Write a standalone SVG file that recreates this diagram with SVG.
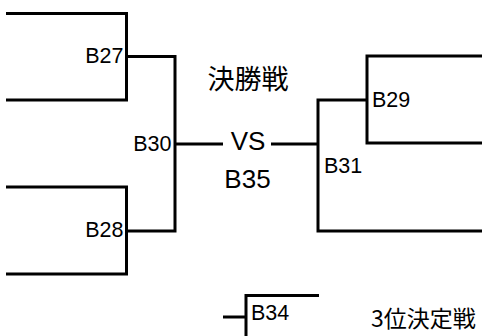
<svg xmlns="http://www.w3.org/2000/svg" width="482" height="336" viewBox="0 0 482 336">
<style>
.ln{fill:none;stroke:#000;stroke-width:3;stroke-linejoin:miter}
.lb{font-family:"Liberation Sans",Arial,"Noto Sans CJK JP",sans-serif;font-size:21.5px;fill:#000}
.big{font-family:"Liberation Sans",Arial,"Noto Sans CJK JP",sans-serif;font-size:26px;fill:#000}
.jp{font-family:"Noto Sans CJK JP","Liberation Sans",sans-serif;fill:#000}
</style>
<rect width="482" height="336" fill="#fff"/>
<g id="connectors">
<path class="ln" d="M6,13.5 H126.5 V100 H6"/>
<path class="ln" d="M6,187 H126.5 V274 H6"/>
<path class="ln" d="M126.5,56.5 H175 V231 H126.5"/>
<path class="ln" d="M175,144 H223"/>
<path class="ln" d="M271,144 H318"/>
<path class="ln" d="M367,100 H318 V231 H482"/>
<path class="ln" d="M482,56 H367 V143 H482"/>
<path class="ln" d="M223,317 H246"/>
<path class="ln" d="M246,336 V295.5 H319"/>
</g>
<g id="B27"><text class="lb" x="123.5" y="63" text-anchor="end">B27</text></g>
<g id="B28"><text class="lb" x="123.5" y="237" text-anchor="end">B28</text></g>
<g id="B30"><text class="lb" x="171.5" y="151" text-anchor="end">B30</text></g>
<g id="B29"><text class="lb" x="372" y="107">B29</text></g>
<g id="B31"><text class="lb" x="324" y="173">B31</text></g>
<g id="B34"><text class="lb" x="251" y="320">B34</text></g>
<g id="final"><text class="jp" x="248" y="89" font-size="27" text-anchor="middle">決勝戦</text></g>
<g id="VS"><text class="big" x="248" y="150" text-anchor="middle">VS</text></g>
<g id="B35"><text class="big" x="247.5" y="188" font-size="27" text-anchor="middle">B35</text></g>
<g id="third"><text class="jp" x="371" y="326.5" font-size="23">3位決定戦</text></g>
</svg>
